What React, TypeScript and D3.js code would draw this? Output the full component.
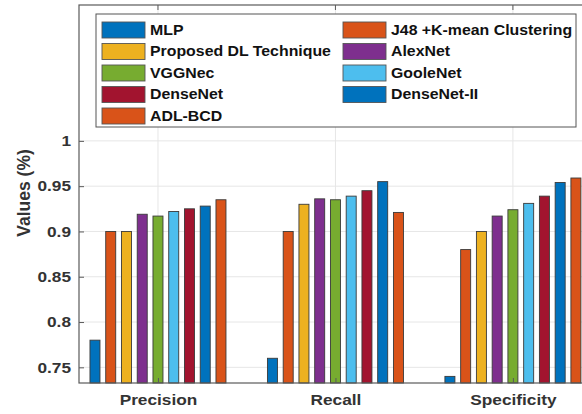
import React, { useEffect, useRef } from 'react';
import * as d3 from 'd3';

const categories = ['Precision', 'Recall', 'Specificity'];
const series = [
  'MLP',
  'J48 +K-mean Clustering',
  'Proposed DL Technique',
  'AlexNet',
  'VGGNec',
  'GooleNet',
  'DenseNet',
  'DenseNet-II',
  'ADL-BCD',
];
const colors = ['#0072BD', '#D95319', '#EDB120', '#7E2F8E', '#77AC30', '#4DBEEE', '#A2142F', '#0072BD', '#D95319'];
// values[series][category]
const values = [
  [0.78, 0.76, 0.74],
  [0.9, 0.9, 0.88],
  [0.9, 0.93, 0.9],
  [0.919, 0.936, 0.917],
  [0.917, 0.935, 0.924],
  [0.922, 0.939, 0.931],
  [0.925, 0.945, 0.939],
  [0.928, 0.955, 0.954],
  [0.935, 0.921, 0.959],
];
const yTicks = [0.75, 0.8, 0.85, 0.9, 0.95, 1];
// legend layout order (column-major like MATLAB's two-column legend)
const legendCol1 = ['MLP', 'Proposed DL Technique', 'VGGNec', 'DenseNet', 'ADL-BCD'];
const legendCol2 = ['J48 +K-mean Clustering', 'AlexNet', 'GooleNet', 'DenseNet-II'];

const W = 582;
const H = 414;
const FONT = '"Liberation Sans", Arial, sans-serif';
const SX = 1.15; // the source picture is a bit stretched horizontally

const App = () => {
  const ref = useRef<SVGSVGElement | null>(null);

  useEffect(() => {
    const left = 79, right = 591, top = 5, bottom = 383;
    const svg = d3.select(ref.current);
    svg.selectAll('*').remove();

    const x = d3.scaleLinear().domain([0.555, 3.44]).range([left, right]);
    const y = d3.scaleLinear().domain([0.7327, 1.15]).range([bottom, top]);
    const inner = d3.scaleBand<string>().domain(series).range([-68, 68]).paddingInner(0.365).paddingOuter(0);

    const g = svg.append('g');

    // grid
    g.selectAll('line.gy')
      .data(yTicks)
      .join('line')
      .attr('x1', left).attr('x2', right)
      .attr('y1', (d) => y(d)).attr('y2', (d) => y(d))
      .attr('stroke', '#e6e6e6').attr('stroke-width', 1);
    g.selectAll('line.gx')
      .data(categories)
      .join('line')
      .attr('x1', (_, i) => x(i + 1)).attr('x2', (_, i) => x(i + 1))
      .attr('y1', top).attr('y2', bottom)
      .attr('stroke', '#e6e6e6').attr('stroke-width', 1);

    // bars
    series.forEach((s, si) => {
      g.append('g')
        .selectAll('rect')
        .data(values[si])
        .join('rect')
        .attr('x', (_, ci) => x(ci + 1) + (inner(s) as number))
        .attr('width', inner.bandwidth())
        .attr('y', (d) => y(d))
        .attr('height', (d) => bottom - y(d))
        .attr('fill', colors[si])
        .attr('stroke', '#3a3a3a')
        .attr('stroke-width', 0.9);
    });

    // frame
    g.append('rect')
      .attr('x', left).attr('y', top)
      .attr('width', right - left).attr('height', bottom - top)
      .attr('fill', 'none').attr('stroke', '#5a5a5a').attr('stroke-width', 1.2);

    // ticks
    const yAxis = d3.axisLeft(y).tickValues(yTicks).tickSize(-5).tickPadding(8)
      .tickFormat((d) => String(+d));
    const ya = g.append('g').attr('transform', `translate(${left},0)`).call(yAxis);
    ya.select('.domain').remove();
    ya.selectAll('line').attr('stroke', '#5a5a5a');
    ya.selectAll('text')
      .attr('x', -8 / SX)
      .attr('transform', `scale(${SX},1)`)
      .attr('font-family', FONT).attr('font-size', 15).attr('font-weight', 'bold').attr('fill', '#333');

    const xAxis = d3.axisBottom(x).tickValues([1, 2, 3]).tickSize(-5).tickPadding(11)
      .tickFormat((d) => categories[+d - 1]);
    const xa = g.append('g').attr('transform', `translate(0,${bottom})`).call(xAxis);
    xa.select('.domain').remove();
    xa.selectAll('line').attr('stroke', '#5a5a5a');
    xa.selectAll('text')
      .attr('transform', `scale(${SX},1)`)
      .attr('font-family', FONT).attr('font-size', 15).attr('font-weight', 'bold').attr('fill', '#333');

    // top ticks
    g.selectAll('line.tt')
      .data([1, 2, 3])
      .join('line')
      .attr('x1', (d) => x(d)).attr('x2', (d) => x(d))
      .attr('y1', top).attr('y2', top + 5)
      .attr('stroke', '#5a5a5a');

    // y label
    g.append('text')
      .attr('transform', `translate(30,193) rotate(-90)`)
      .attr('text-anchor', 'middle')
      .attr('font-family', FONT).attr('font-size', 17.5).attr('font-weight', 'bold').attr('fill', '#333')
      .text('Values (%)');

    // legend
    const lg = g.append('g');
    lg.append('rect')
      .attr('x', 96).attr('y', 14).attr('width', 480).attr('height', 113)
      .attr('fill', 'white').attr('stroke', '#555').attr('stroke-width', 1);
    const rowY = d3.scaleLinear().domain([0, 4]).range([30, 116]);
    const cols: [string[], number][] = [[legendCol1, 102], [legendCol2, 343]];
    cols.forEach(([names, cx]) => {
      const rows = lg.selectAll(null).data(names).enter().append('g')
        .attr('transform', (_, i) => `translate(${cx},${rowY(i)})`);
      rows.append('rect')
        .attr('x', 0).attr('y', -8).attr('width', 43).attr('height', 16)
        .attr('fill', (d) => colors[series.indexOf(d)])
        .attr('stroke', '#555').attr('stroke-width', 0.9);
      rows.append('text')
        .attr('transform', `translate(48,0) scale(${SX},1)`)
        .attr('dy', '0.36em')
        .attr('font-family', FONT).attr('font-size', 13.8).attr('font-weight', 'bold').attr('fill', '#111')
        .text((d) => d);
    });
  }, []);

  return (
    <svg
      ref={ref}
      width={W}
      height={H}
      style={{ position: 'absolute', left: 0, top: 0, background: 'white' }}
    />
  );
};

export default App;
